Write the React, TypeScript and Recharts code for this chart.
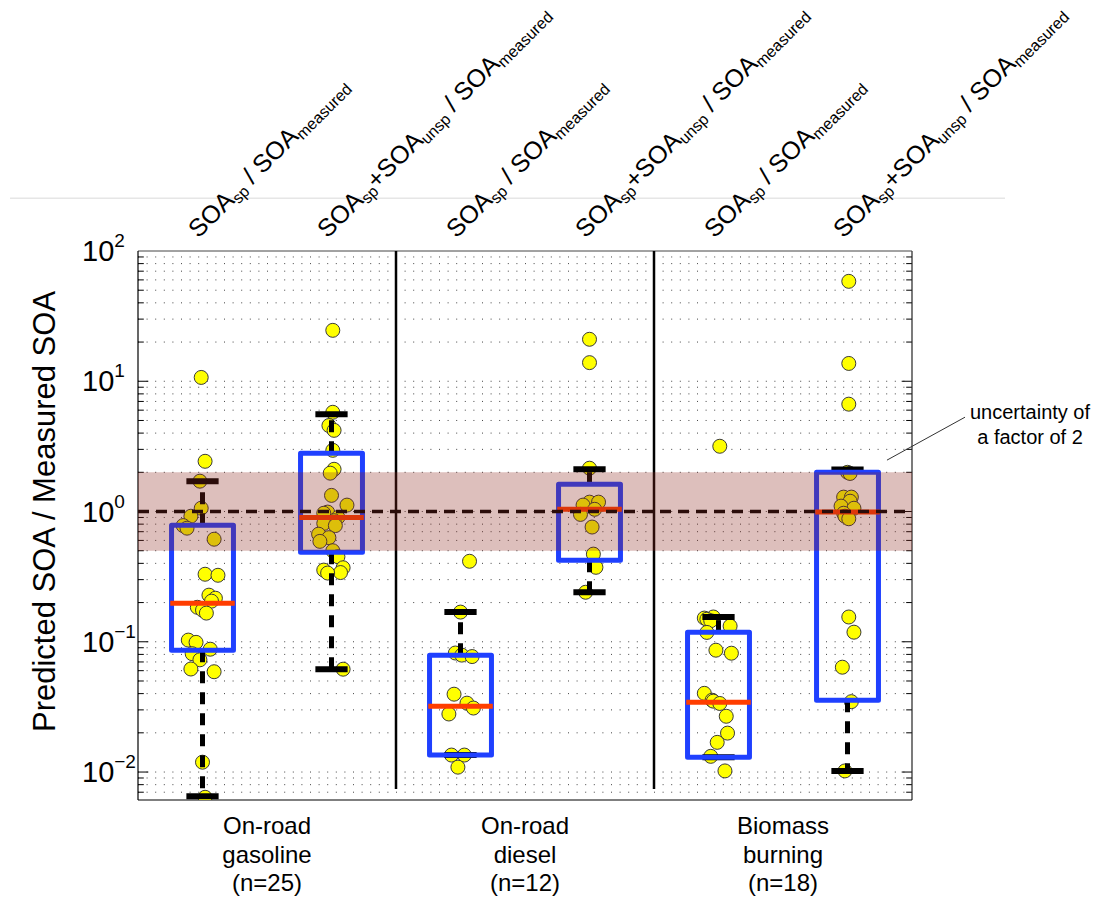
import React from 'react'
import { ComposedChart, XAxis, YAxis, Scatter, ReferenceLine, ReferenceArea, ReferenceDot } from 'recharts'

const FONT = '"Liberation Sans", Arial, Helvetica, sans-serif'

// box positions on the x axis (1..6), three source groups of two
const groupPos = [1, 2, 3, 4, 5, 6]

// individual ratios, with their horizontal jitter
const g1Values = [10.7, 2.43, 1.71, 1.06, 0.92, 0.78, 0.745, 0.613, 0.33, 0.324, 0.228, 0.216, 0.205, 0.184, 0.175, 0.166, 0.103, 0.099, 0.0877, 0.081, 0.0727, 0.0618, 0.0589, 0.0119, 0.0064]
const g1Jitter = [-0.01, 0.02, -0.02, -0.01, -0.09, -0.15, -0.12, 0.09, 0.02, 0.12, 0.05, 0.1, 0.07, -0.04, 0, 0.03, -0.11, -0.05, 0.06, -0.08, -0.02, -0.09, 0.09, 0, 0.02]
const g2Values = [24.6, 5.78, 4.57, 4.2, 2.95, 2.11, 1.97, 1.33, 1.12, 0.99, 0.97, 0.9, 0.85, 0.81, 0.78, 0.67, 0.63, 0.59, 0.5, 0.45, 0.37, 0.355, 0.34, 0.337, 0.0616]
const g2Jitter = [0.01, 0.01, -0.02, 0.02, 0.01, 0.02, -0.01, 0, 0.12, -0.03, -0.06, 0.05, 0.02, -0.06, 0.03, -0.1, -0.02, -0.09, 0.01, 0.05, 0.09, -0.06, 0.07, -0.03, 0.09]
const g3Values = [0.415, 0.169, 0.082, 0.079, 0.077, 0.0396, 0.0338, 0.031, 0.0279, 0.0135, 0.0135, 0.0109]
const g3Jitter = [0.07, 0, -0.04, 0.01, 0.09, -0.05, 0.05, 0.1, -0.09, -0.07, 0.03, -0.02]
const g4Values = [21.0, 13.9, 2.15, 1.18, 1.18, 1.12, 1.04, 0.95, 0.76, 0.471, 0.373, 0.24]
const g4Jitter = [0, 0, 0, 0, 0.07, -0.05, 0.04, -0.07, 0.02, 0.03, 0.05, -0.03]
const g5Values = [3.17, 0.155, 0.152, 0.149, 0.145, 0.132, 0.118, 0.0862, 0.0817, 0.0402, 0.0356, 0.035, 0.0336, 0.0268, 0.0199, 0.0169, 0.0132, 0.0102]
const g5Jitter = [0.01, -0.04, -0.11, -0.09, -0.06, 0.09, -0.09, -0.02, 0.1, -0.11, -0.05, -0.04, 0.01, 0.06, 0.07, -0.01, -0.06, 0.05]
const g6Values = [58.5, 13.7, 6.67, 2.0, 1.96, 1.29, 1.29, 1.2, 1.1, 1.06, 0.97, 0.92, 0.88, 0.155, 0.1185, 0.0638, 0.0347, 0.0102]
const g6Jitter = [0.01, 0.01, 0.01, 0, 0.02, -0.03, 0.03, 0.02, -0.05, 0.05, -0.03, -0.02, 0.01, 0.01, 0.05, -0.04, 0.03, -0.02]

// box statistics per box
const boxQ1 = [0.0862, 0.487, 0.0135, 0.423, 0.013, 0.0356]
const boxMedian = [0.198, 0.9, 0.032, 1.04, 0.0344, 0.99]
const boxQ3 = [0.785, 2.8, 0.0789, 1.62, 0.1185, 2.0]
const whiskerLow = [0.00653, 0.0616, 0.0135, 0.24, 0.013, 0.0102]
const whiskerHigh = [1.71, 5.58, 0.169, 2.11, 0.155, 2.1]

// labels
const labelSp: [string, boolean][] = [['SOA', false], ['sp', true], [' / SOA', false], ['measured', true]]
const labelAll: [string, boolean][] = [['SOA', false], ['sp', true], ['+SOA', false], ['unsp', true], [' / SOA', false], ['measured', true]]
const topLabels = [labelSp, labelAll, labelSp, labelAll, labelSp, labelAll]
const categoryPos = [1.5, 3.5, 5.5]
const categoryLabels = [
  ['On-road', 'gasoline', '(n=25)'],
  ['On-road', 'diesel', '(n=12)'],
  ['Biomass', 'burning', '(n=18)'],
]
const yTicks = [0.01, 0.1, 1, 10, 100]
const yDomain = [0.0061, 100]
const xDomain = [0.5, 6.5]
const separators = [2.5, 4.5]
const bandLow = 0.5
const bandHigh = 2
const gridDecades = [0.001, 0.01, 0.1, 1, 10]
const gridMantissa = [1, 2, 3, 4, 5, 6, 7, 8, 9]

const allValues = [g1Values, g2Values, g3Values, g4Values, g5Values, g6Values]
const allJitter = [g1Jitter, g2Jitter, g3Jitter, g4Jitter, g5Jitter, g6Jitter]
const points = allValues.flatMap((vals, i) => vals.map((v, j) => ({ x: groupPos[i] + allJitter[i][j], y: v })))

const gridValues = gridDecades
  .flatMap(d => gridMantissa.map(m => ({ v: m * d, major: m === 1 })))
  .filter(g => g.v >= yDomain[0] && g.v <= yDomain[1])

const BOX_HALF = 0.24
const CAP_HALF = 0.125
const TICK_MINOR = 0.045
const TICK_MAJOR = 0.08

const YTick = ({ x, y, payload }: any) => {
  const exp = Math.round(Math.log10(payload.value))
  return (
    <text x={x - 56} y={y + 10} fontSize={29} fill="#000" fontFamily={FONT}>
      10
      <tspan dy={-14} fontSize={19}>{exp < 0 ? '\u2212' + -exp : String(exp)}</tspan>
    </text>
  )
}

const TopTick = ({ x, y, payload }: any) => {
  const parts = topLabels[Math.round(payload.value) - 1]
  const ax = x - 4
  const ay = y - 12
  let shift = 0
  return (
    <text x={ax} y={ay} transform={`rotate(-45 ${ax} ${ay})`} fontSize={25} fill="#000" fontFamily={FONT} style={{ whiteSpace: 'pre' }}>
      {parts.map(([t, sub], i) => {
        const dy = sub ? 4 - shift : -shift
        shift = sub ? 4 : 0
        return (
          <tspan key={i} dy={dy} fontSize={sub ? 16 : 25}>{t}</tspan>
        )
      })}
    </text>
  )
}

const BottomTick = ({ x, y, payload }: any) => {
  const lines = categoryLabels[categoryPos.indexOf(payload.value)] || []
  return (
    <text textAnchor="middle" fontSize={24} fill="#000" fontFamily={FONT}>
      {lines.map((l, i) => (
        <tspan key={i} x={x} y={y + 34 + i * 28.5}>{l}</tspan>
      ))}
    </text>
  )
}

const YLabel = ({ viewBox }: any) => {
  const cx = 55
  const cy = viewBox.y + viewBox.height / 2 - 14
  return (
    <text x={cx} y={cy} transform={`rotate(-90 ${cx} ${cy})`} textAnchor="middle" fontSize={31} fill="#000" fontFamily={FONT}>
      Predicted SOA / Measured SOA
    </text>
  )
}

const Note = ({ cx, cy }: any) => (
  <text textAnchor="middle" fontSize={20} fill="#000" fontFamily={FONT}>
    <tspan x={cx} y={cy}>uncertainty of</tspan>
    <tspan x={cx} y={cy + 25}>a factor of 2</tspan>
  </text>
)

export default function App() {
  return (
    <div style={{ position: 'absolute', left: 0, top: 0, width: 1097, height: 900, background: '#fff', fontFamily: FONT }}>
      <ComposedChart width={1097} height={900} margin={{ top: 0, right: 185, bottom: 0, left: 0 }}>
        <XAxis
          xAxisId="top"
          orientation="top"
          type="number"
          dataKey="x"
          domain={xDomain}
          allowDataOverflow
          ticks={groupPos}
          interval={0}
          height={251}
          tickSize={0}
          tickMargin={0}
          tickLine={false}
          axisLine={{ stroke: '#444', strokeWidth: 1 }}
          tick={<TopTick />}
        />
        <XAxis
          type="number"
          dataKey="x"
          domain={xDomain}
          allowDataOverflow
          ticks={categoryPos}
          interval={0}
          height={100}
          tickSize={0}
          tickMargin={0}
          tickLine={false}
          axisLine={{ stroke: '#000', strokeWidth: 1.2 }}
          tick={<BottomTick />}
        />
        <YAxis
          type="number"
          dataKey="y"
          scale="log"
          domain={yDomain}
          allowDataOverflow
          ticks={yTicks}
          interval={0}
          width={138}
          tickSize={0}
          tickMargin={0}
          tickLine={false}
          axisLine={{ stroke: '#000', strokeWidth: 1.2 }}
          tick={<YTick />}
          label={<YLabel />}
        />

        {/* dotted log grid and inner ticks */}
        {gridValues.map(g => (
          <ReferenceLine key={'g' + g.v} y={g.v} stroke="#444" strokeWidth={1} strokeDasharray="1 7.6" zIndex={-50} />
        ))}
        {gridValues.map(g => (
          <ReferenceLine key={'tl' + g.v} segment={[{ x: xDomain[0], y: g.v }, { x: xDomain[0] + (g.major ? TICK_MAJOR : TICK_MINOR), y: g.v }]} stroke="#000" strokeWidth={1} zIndex={-40} />
        ))}
        {gridValues.map(g => (
          <ReferenceLine key={'tr' + g.v} segment={[{ x: xDomain[1] - (g.major ? TICK_MAJOR : TICK_MINOR), y: g.v }, { x: xDomain[1], y: g.v }]} stroke="#000" strokeWidth={1} zIndex={-40} />
        ))}
        <ReferenceLine x={xDomain[1]} stroke="#222" strokeWidth={1.2} zIndex={-40} />
        <ReferenceLine
          segment={[{ x: -0.492, y: 253.7 }, { x: 7.221, y: 253.7 }]}
          ifOverflow="visible"
          stroke="#e6e6e6"
          strokeWidth={1.5}
          zIndex={-40}
        />

        <Scatter
          data={points}
          dataKey="y"
          isAnimationActive={false}
          zIndex={600}
          shape={(p: any) => <circle cx={p.cx} cy={p.cy} r={7} fill="#ffff00" stroke="#3a3a3a" strokeWidth={1} />}
        />

        {/* whiskers */}
        {groupPos.map((g, i) => (
          <ReferenceLine key={'wh' + g} segment={[{ x: g, y: boxQ3[i] }, { x: g, y: whiskerHigh[i] }]} stroke="#000" strokeWidth={5} strokeDasharray="12 9" zIndex={610} />
        ))}
        {groupPos.map((g, i) => (
          <ReferenceLine key={'wl' + g} segment={[{ x: g, y: boxQ1[i] }, { x: g, y: whiskerLow[i] }]} stroke="#000" strokeWidth={5} strokeDasharray="12 9" zIndex={610} />
        ))}
        {groupPos.map((g, i) => (
          <ReferenceLine key={'ch' + g} segment={[{ x: g - CAP_HALF, y: whiskerHigh[i] }, { x: g + CAP_HALF, y: whiskerHigh[i] }]} stroke="#000" strokeWidth={6} zIndex={620} />
        ))}
        {groupPos.map((g, i) => (
          <ReferenceLine key={'cl' + g} segment={[{ x: g - CAP_HALF, y: whiskerLow[i] }, { x: g + CAP_HALF, y: whiskerLow[i] }]} stroke="#000" strokeWidth={6} zIndex={620} />
        ))}

        {/* boxes and medians */}
        {groupPos.map((g, i) => (
          <ReferenceArea key={'b' + g} x1={g - BOX_HALF} x2={g + BOX_HALF} y1={boxQ1[i]} y2={boxQ3[i]} fill="none" fillOpacity={0} stroke="#1f40ff" strokeWidth={5} strokeLinejoin="round" zIndex={630} />
        ))}
        {groupPos.map((g, i) => (
          <ReferenceLine key={'m' + g} segment={[{ x: g - BOX_HALF - 0.01, y: boxMedian[i] }, { x: g + BOX_HALF + 0.01, y: boxMedian[i] }]} stroke="#ff3d00" strokeWidth={5} zIndex={640} />
        ))}

        {/* group separators */}
        {separators.map(s => (
          <ReferenceLine key={'s' + s} segment={[{ x: s, y: yDomain[1] }, { x: s, y: 0.0074 }]} stroke="#000" strokeWidth={2.5} zIndex={650} />
        ))}

        {/* 1:1 line and factor-of-2 band */}
        <ReferenceLine y={1} stroke="#000" strokeWidth={3.5} strokeDasharray="11 7" zIndex={660} />
        <ReferenceArea x1={xDomain[0]} x2={xDomain[1]} y1={bandLow} y2={bandHigh} fill="rgb(141,42,33)" fillOpacity={0.3} stroke="none" zIndex={670} />

        {/* annotation */}
        <ReferenceLine
          segment={[{ x: 6.306, y: 2.48 }, { x: 6.911, y: 5.3 }]}
          ifOverflow="visible"
          stroke="#333"
          strokeWidth={1}
          zIndex={680}
        />
        <ReferenceDot x={7.415} y={5.11} r={0} ifOverflow="visible" zIndex={690} shape={(p: any) => <Note cx={p.cx} cy={p.cy} />} />
      </ComposedChart>
    </div>
  )
}
